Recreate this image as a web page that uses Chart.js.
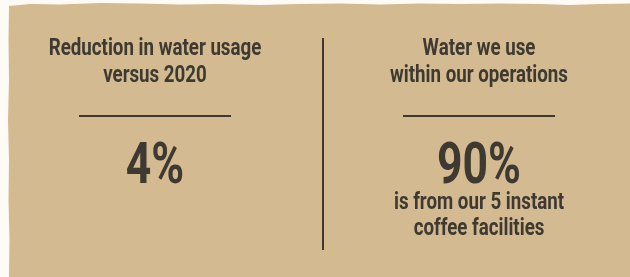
<!DOCTYPE html>
<html><head><meta charset="utf-8">
<script src="https://cdn.jsdelivr.net/npm/chart.js@4.4.1/dist/chart.umd.min.js"></script>
<style>
html,body{margin:0;padding:0;background:#FEFBF7;}
#wrap{position:relative;width:630px;height:277px;}
</style></head>
<body><div id="wrap"><canvas id="c" width="630" height="277"></canvas></div>
<script>
const categories = ["Reduction in water usage", "Water we use within our operations"];
const titleLines = [["Reduction in water usage", "versus 2020"], ["Water we use", "within our operations"]];
const values = [4, 90];
const valueSuffix = "%";
const noteLines = [[], ["is from our 5 instant", "coffee facilities"]];

const INK = "#3E3A31";
const PANEL = "#D3BA91";
const FONT = 'Roboto, "Liberation Sans", sans-serif';
const CONDENSE = 0.78;

function condensed(ctx, text, x, y) {
  ctx.save();
  ctx.translate(x, y);
  ctx.scale(CONDENSE, 1);
  ctx.fillText(text, 0, 0);
  ctx.restore();
}

const panelPlugin = {
  id: "panel",
  beforeDraw(chart) {
    const ctx = chart.ctx;
    ctx.save();
    ctx.fillStyle = "#FEFBF7";
    ctx.fillRect(0, 0, chart.width, chart.height);
    ctx.fillStyle = PANEL;
    ctx.beginPath();
    ctx.moveTo(9, 6);
    const top = [[30,4],[60,4.5],[100,3],[140,3.5],[180,4.5],[220,4],[260,5],[300,4],[340,3.5],[380,4.5],[420,3.5],[460,4],[500,3.5],[540,4],[570,5],[600,4],[630,3.5]];
    top.forEach(p => ctx.lineTo(p[0], p[1]));
    ctx.lineTo(630, 277);
    ctx.lineTo(9, 277);
    const left = [[9.5,240],[8.5,200],[9,160],[8,120],[9,80],[8.5,40]];
    left.forEach(p => ctx.lineTo(p[0], p[1]));
    ctx.closePath();
    ctx.fill();
    ctx.restore();
  }
};

const textPlugin = {
  id: "texts",
  afterDatasetsDraw(chart) {
    const ctx = chart.ctx;
    const meta = chart.getDatasetMeta(0);
    ctx.save();
    ctx.fillStyle = INK;
    ctx.strokeStyle = INK;
    ctx.textAlign = "center";
    ctx.textBaseline = "alphabetic";
    ctx.lineWidth = 2;
    ctx.beginPath();
    ctx.moveTo(323, 38);
    ctx.lineTo(323, 250);
    ctx.stroke();
    meta.data.forEach((el, i) => {
      const x = el.x;
      ctx.font = "bold 24px " + FONT;
      titleLines[i].forEach((t, k) => condensed(ctx, t, x, 55 + k * 26.5));
      ctx.beginPath();
      ctx.moveTo(x - 76, 116);
      ctx.lineTo(x + 76, 116);
      ctx.stroke();
      ctx.font = "bold 57px " + FONT;
      condensed(ctx, values[i] + valueSuffix, x, 183);
      ctx.font = "bold 24px " + FONT;
      noteLines[i].forEach((t, k) => condensed(ctx, t, x, 209 + k * 26));
    });
    ctx.restore();
  }
};

new Chart(document.getElementById("c"), {
  type: "bar",
  data: {
    labels: categories,
    datasets: [{ data: values, backgroundColor: "rgba(0,0,0,0)", borderWidth: 0 }]
  },
  options: {
    responsive: false,
    animation: false,
    devicePixelRatio: 1,
    layout: { padding: { left: 155, right: 151, top: 0, bottom: 0 } },
    plugins: { legend: { display: false }, tooltip: { enabled: false } },
    scales: {
      x: { display: false, offset: false },
      y: { display: false, beginAtZero: true, max: 100 }
    }
  },
  plugins: [panelPlugin, textPlugin]
});
</script></body></html>
